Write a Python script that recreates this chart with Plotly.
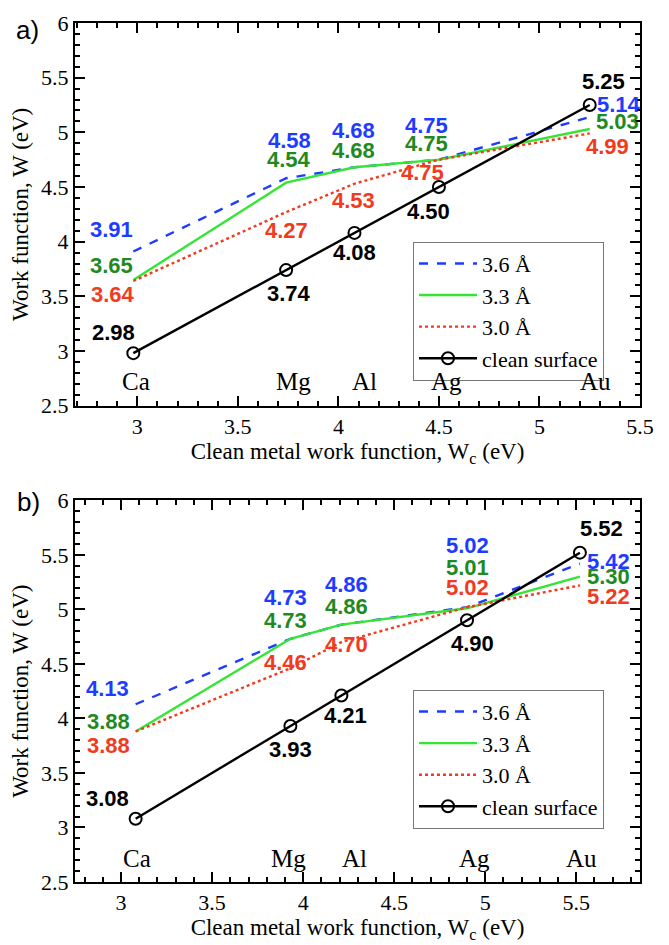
import plotly.graph_objects as go

# ---------------- data ----------------
elements = ["Ca", "Mg", "Al", "Ag", "Au"]

clean_a = [2.98, 3.74, 4.08, 4.50, 5.25]
w36_a = [3.91, 4.58, 4.68, 4.75, 5.14]
w33_a = [3.65, 4.54, 4.68, 4.75, 5.03]
w30_a = [3.64, 4.27, 4.53, 4.75, 4.99]

clean_b = [3.08, 3.93, 4.21, 4.90, 5.52]
w36_b = [4.13, 4.73, 4.86, 5.02, 5.42]
w33_b = [3.88, 4.73, 4.86, 5.01, 5.30]
w30_b = [3.88, 4.46, 4.70, 5.02, 5.22]

series_names = ["3.6 Å", "3.3 Å", "3.0 Å", "clean surface"]

# ---------------- styles ----------------
BLUE = "#1e3cff"
GREEN_LINE = "#33e633"
GREEN_TXT = "#1f8a1f"
RED = "#f23a1e"
BLACK = "#000000"
SERIF = "Liberation Serif"
SANS = "Liberation Sans"

# label offsets in pixels (dx, dy-up) per series per point
off_a = {
    "b": [(-22, 22), (3, 38), (-1, 37), (-12, 34), (29, 13)],
    "g": [(-22, 14), (3, 23), (-1, 17), (-12, 16), (28, 8)],
    "r": [(-20, -13), (0, -18), (-1, -17), (-16, -13), (18, -13)],
    "k": [(-20, 21), (3, -23), (0, -20), (-10, -25), (14, 24)],
}
off_b = {
    "b": [(-28, 16), (-5, 41), (5, 40), (0, 62), (29, 2)],
    "g": [(-27, 10), (-5, 18), (5, 18), (0, 41), (29, 0)],
    "r": [(-27, -14), (-5, 6), (5, -2), (0, 20), (29, -11)],
    "k": [(-28, 20), (0, -23), (4, -20), (5, -23), (22, 24)],
}
elem_dx_a = [3, 7, 10, 8, 6]
elem_dx_b = [1, -2, 13, 7, 2]

fig = go.Figure()

def add_panel(clean, w36, w33, w30, xa, ya, legend, offs, elem_dx):
    fig.add_trace(go.Scatter(x=clean, y=w36, mode="lines", name=series_names[0],
                             line=dict(color=BLUE, width=2.4, dash="dash"),
                             xaxis=xa, yaxis=ya, legend=legend))
    fig.add_trace(go.Scatter(x=clean, y=w33, mode="lines", name=series_names[1],
                             line=dict(color=GREEN_LINE, width=2.4),
                             xaxis=xa, yaxis=ya, legend=legend))
    fig.add_trace(go.Scatter(x=clean, y=w30, mode="lines", name=series_names[2],
                             line=dict(color=RED, width=2.4, dash="dot"),
                             xaxis=xa, yaxis=ya, legend=legend))
    fig.add_trace(go.Scatter(x=clean, y=clean, mode="lines+markers", name=series_names[3],
                             line=dict(color=BLACK, width=2.4),
                             marker=dict(symbol="circle-open", size=12, color=BLACK,
                                         line=dict(width=2, color=BLACK)),
                             xaxis=xa, yaxis=ya, legend=legend))
    for vals, key, col in [(w36, "b", BLUE), (w33, "g", GREEN_TXT), (w30, "r", RED), (clean, "k", BLACK)]:
        for i, (xv, yv) in enumerate(zip(clean, vals)):
            dx, dy = offs[key][i]
            fig.add_annotation(x=xv, y=yv, xref=xa, yref=ya, text=f"{yv:.2f}",
                               showarrow=False, xshift=dx, yshift=dy,
                               xanchor="center", yanchor="middle",
                               font=dict(family=SANS, size=22, color=col, weight="bold"))
    for i, (xv, el) in enumerate(zip(clean, elements)):
        fig.add_annotation(x=xv, y=2.72, xref=xa, yref=ya, text=el, showarrow=False,
                           xanchor="center", yanchor="middle",
                           xshift=elem_dx[i], font=dict(family=SERIF, size=25, color=BLACK))

add_panel(clean_a, w36_a, w33_a, w30_a, "x", "y", "legend", off_a, elem_dx_a)
add_panel(clean_b, w36_b, w33_b, w30_b, "x2", "y2", "legend2", off_b, elem_dx_b)

# ---------------- layout ----------------
W, H = 669, 945
ML, MR, MT, MB = 75, 29, 11, 54
PW = W - ML - MR
PH = H - MT - MB

def px2paper(px, py):
    return (px - ML) / PW, 1 - (py - MT) / PH

axis_common = dict(
    showline=True, linecolor="black", linewidth=2, mirror="allticks",
    ticks="inside", ticklen=10, tickwidth=2, tickcolor="black",
    showgrid=False, zeroline=False,
    tickfont=dict(family=SERIF, size=22, color="black"),
    minor=dict(ticks="inside", ticklen=5, tickwidth=1.5, tickcolor="black", dtick=0.1, showgrid=False),
    dtick=0.5,
)

ytitle = dict(text="Work function, W (eV)", font=dict(family=SERIF, size=23, color="black"), standoff=6)
xtitle = dict(text="Clean metal work function, W<sub>c</sub> (eV)",
              font=dict(family=SERIF, size=23, color="black"), standoff=2)

a_bot = 1 - (403 - MT) / PH
b_top = 1 - (500 - MT) / PH

lx, ly_a = px2paper(413, 235)
_, ly_b = px2paper(413, 694)

legend_common = dict(
    xanchor="left", yanchor="top", bgcolor="white",
    bordercolor="#777777", borderwidth=1,
    font=dict(family=SERIF, size=22, color="black"),
    itemwidth=58, tracegroupgap=0,
)

fig.update_layout(
    width=W, height=H,
    margin=dict(l=ML, r=MR, t=MT, b=MB),
    paper_bgcolor="white", plot_bgcolor="white",
    showlegend=True,
    xaxis=dict(domain=[0, 1], range=[2.69, 5.50], anchor="y", title=xtitle, **axis_common),
    yaxis=dict(domain=[a_bot, 1.0], range=[2.5, 6.0], anchor="x", title=ytitle, **axis_common),
    xaxis2=dict(domain=[0, 1], range=[2.747, 5.85], anchor="y2", title=xtitle, **axis_common),
    yaxis2=dict(domain=[0.0, b_top], range=[2.5, 6.0], anchor="x2", title=ytitle, **axis_common),
    legend=dict(x=lx, y=ly_a, **legend_common),
    legend2=dict(x=lx, y=ly_b, **legend_common),
)

ax, ay = px2paper(27, 18)
bx, by = px2paper(28, 502)
for txt, px_, py_ in [("a)", ax, ay), ("b)", bx, by)]:
    fig.add_annotation(x=px_, y=py_, xref="paper", yref="paper", text=txt, showarrow=False,
                       xanchor="center", yanchor="middle",
                       font=dict(family=SANS, size=26, color="black"))

fig.write_html("out.html")
